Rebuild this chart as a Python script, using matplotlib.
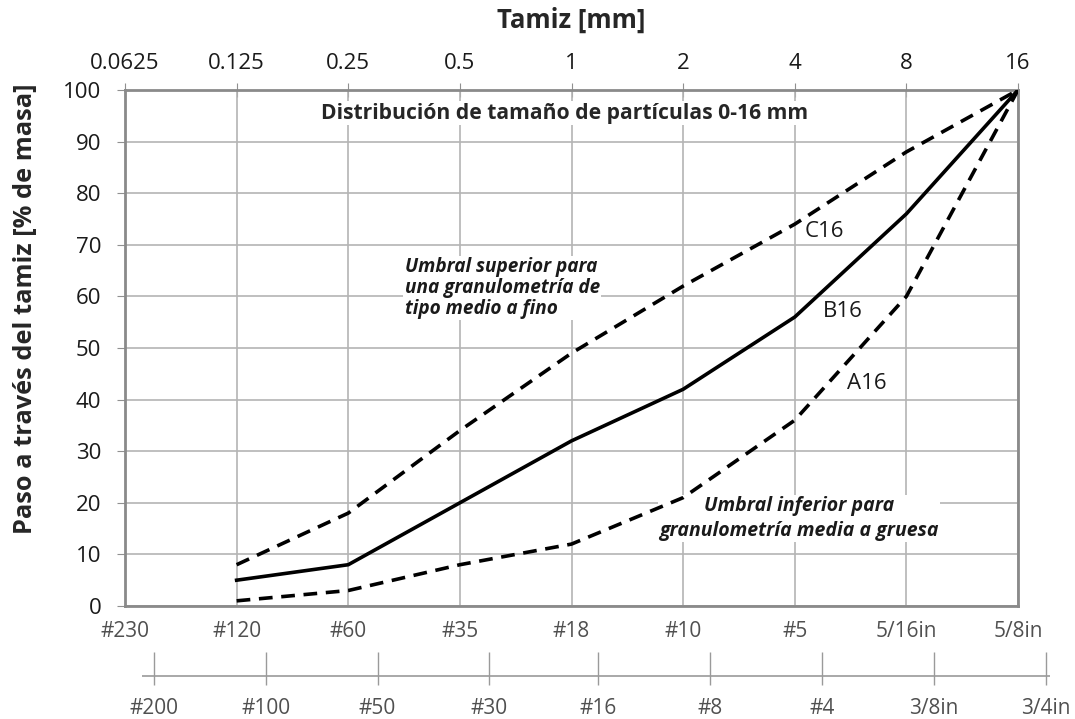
import numpy as np
from matplotlib import pyplot as plt

# sieve sizes [mm] and passing percentages
sizes_mm = [0.125, 0.25, 0.5, 1, 2, 4, 8, 16]
a16 = [1, 3, 8, 12, 21, 36, 60, 100]
b16 = [5, 8, 20, 32, 42, 56, 76, 100]
c16 = [8, 18, 34, 49, 62, 74, 88, 100]

top_ticks = [0.0625, 0.125, 0.25, 0.5, 1, 2, 4, 8, 16]
top_labels = ["0.0625", "0.125", "0.25", "0.5", "1", "2", "4", "8", "16"]
bottom_labels = ["#230", "#120", "#60", "#35", "#18", "#10", "#5", "5/16in", "5/8in"]
astm_ticks = [0.075, 0.15, 0.3, 0.6, 1.18, 2.36, 4.75, 9.5, 19]
astm_labels = ["#200", "#100", "#50", "#30", "#16", "#8", "#4", "3/8in", "3/4in"]

plt.rcParams["font.family"] = ["Open Sans", "DejaVu Sans"]

W, H = 1075, 719
fig = plt.figure(figsize=(W / 100, H / 100), dpi=100)

# main axes, pixel box 125..1018 x 90..606
x0, x1, y0, y1 = 125, 1018, 90, 606
ax = fig.add_axes([x0 / W, 1 - y1 / H, (x1 - x0) / W, (y1 - y0) / H])
ax.set_xscale("log", base=2)
ax.set_xlim(top_ticks[0], top_ticks[-1])
ax.set_ylim(0, 100)

grid_c = "#b4b4b4"
tick_fs = 16
ax.set_xticks(top_ticks)
ax.set_xticklabels(bottom_labels, color="#505050", fontsize=15)
ax.xaxis.set_minor_locator(plt.NullLocator())
ax.set_yticks(range(0, 101, 10))
ax.tick_params(axis="y", labelsize=16, direction="out", length=6, color="#909090",
               pad=11, labelcolor="#1a1a1a")
ax.tick_params(axis="x", length=0, pad=11)
ax.grid(True, color=grid_c, linewidth=1.2)
for sp in ax.spines.values():
    sp.set_color("#8a8a8a")
    sp.set_linewidth(2)

sec = ax.secondary_xaxis("top")
sec.set_xticks(top_ticks)
sec.set_xticklabels(top_labels, fontsize=tick_fs, color="#1a1a1a")
sec.xaxis.set_minor_locator(plt.NullLocator())
sec.tick_params(direction="inout", length=10, color="#909090", pad=6.5)
sec.spines["top"].set_visible(False)
sec.set_xlabel("Tamiz [mm]", fontsize=18.5, fontweight="bold", labelpad=18, color="#262626")

ax.set_ylabel("Paso a través del tamiz [% de masa]", fontsize=18.3, fontweight="bold",
              color="#262626")
ax.yaxis.set_label_coords(-0.0975, 0.576)

# grading curves
lw = 2.6
ax.plot(sizes_mm, c16, color="black", lw=lw, dashes=(3.8, 2.4), zorder=4)
ax.plot(sizes_mm, b16, color="black", lw=lw, zorder=4)
ax.plot(sizes_mm, a16, color="black", lw=lw, dashes=(3.8, 2.4), zorder=4)

ax.text(4.25, 72.5, "C16", fontsize=16, va="center", ha="left", color="#1a1a1a")
ax.text(4.75, 57, "B16", fontsize=16, va="center", ha="left", color="#1a1a1a")
ax.text(5.55, 43.2, "A16", fontsize=16, va="center", ha="left", color="#1a1a1a")

bbox = dict(facecolor="white", edgecolor="none", pad=1)
ax.text(0.96, 95.5, "Distribución de tamaño de partículas 0-16 mm", fontsize=15.2,
        fontweight="bold", ha="center", va="center", color="#262626", bbox=bbox,
        zorder=3)
ax.text(0.355, 61.6, "Umbral superior para\nuna granulometría de\ntipo medio a fino",
        fontsize=13.7, fontweight="bold", style="italic", ha="left", va="center",
        linespacing=1.05, color="#1a1a1a", bbox=bbox, zorder=3)
ax.text(4.1, 17.0, "Umbral inferior para\ngranulometría media a gruesa",
        fontsize=14, fontweight="bold", style="italic", ha="center", va="center",
        linespacing=1.3, color="#1a1a1a", bbox=bbox, zorder=3)

# second sieve scale below (ASTM)
px_per_oct = (x1 - x0) / 8
lx0, lx1, ltop, lbot, lline = 142, 1050, 652, 685, 675.5
lax = fig.add_axes([lx0 / W, 1 - lbot / H, (lx1 - lx0) / W, (lbot - ltop) / H])
lax.set_xscale("log", base=2)
lax.set_xlim(top_ticks[0] * 2 ** ((lx0 - x0) / px_per_oct),
             top_ticks[0] * 2 ** ((lx1 - x0) / px_per_oct))
lax.set_ylim(0, 1)
lax.set_yticks([])
for s in lax.spines.values():
    s.set_visible(False)
lax.axhline((lbot - lline) / (lbot - ltop), color="#9a9a9a", lw=1.2)
lax.set_xticks(astm_ticks)
lax.set_xticklabels(astm_labels, fontsize=15, color="#505050")
lax.xaxis.set_minor_locator(plt.NullLocator())
lax.tick_params(axis="x", direction="in", length=(lbot - ltop) * 0.72, width=1,
                color="#9a9a9a", pad=9.5)
lax.patch.set_visible(False)

fig.savefig("out.png", dpi=100)
